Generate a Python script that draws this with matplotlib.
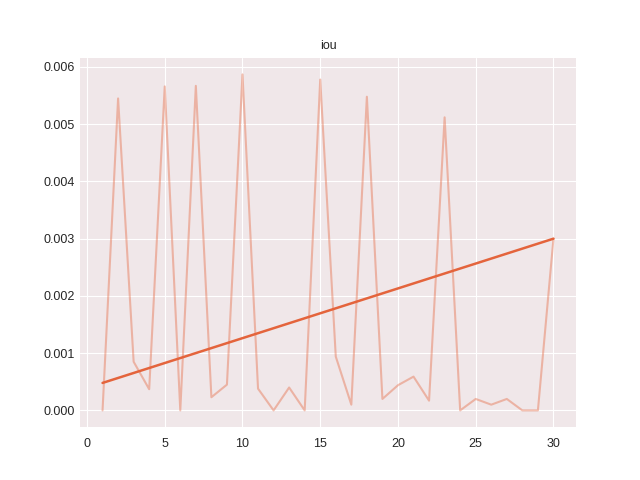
import numpy as np
import matplotlib.pyplot as plt

# per-epoch iou values
epochs = np.arange(1, 31)
iou = [0.0, 0.00545, 0.00085, 0.00037, 0.00566, 0.0, 0.00567, 0.00023, 0.00045, 0.00587,
       0.00038, 0.0, 0.0004, 0.0, 0.00578, 0.00094, 0.0001, 0.00548, 0.0002, 0.00044,
       0.00059, 0.00017, 0.00512, 0.0, 0.0002, 0.0001, 0.0002, 0.0, 0.0, 0.003]

# trend line endpoints
trend_x = [1, 30]
trend_y = [0.00048, 0.003]

plt.style.use('seaborn-v0_8-darkgrid')
plt.rcParams['font.family'] = ['Liberation Sans', 'DejaVu Sans']

fig, ax = plt.subplots(figsize=(6.4, 4.8), dpi=100)
ax.set_facecolor('#f0e7e9')
ax.plot(epochs, iou, color='#e4643c', alpha=0.4, linewidth=1.5)
ax.plot(trend_x, trend_y, color='#e4643c', linewidth=1.8)
ax.set_title('iou', fontsize=9)
ax.tick_params(labelsize=9, colors='#262626')
ax.tick_params(axis='x', pad=8)

plt.savefig('out.png', dpi=100)
